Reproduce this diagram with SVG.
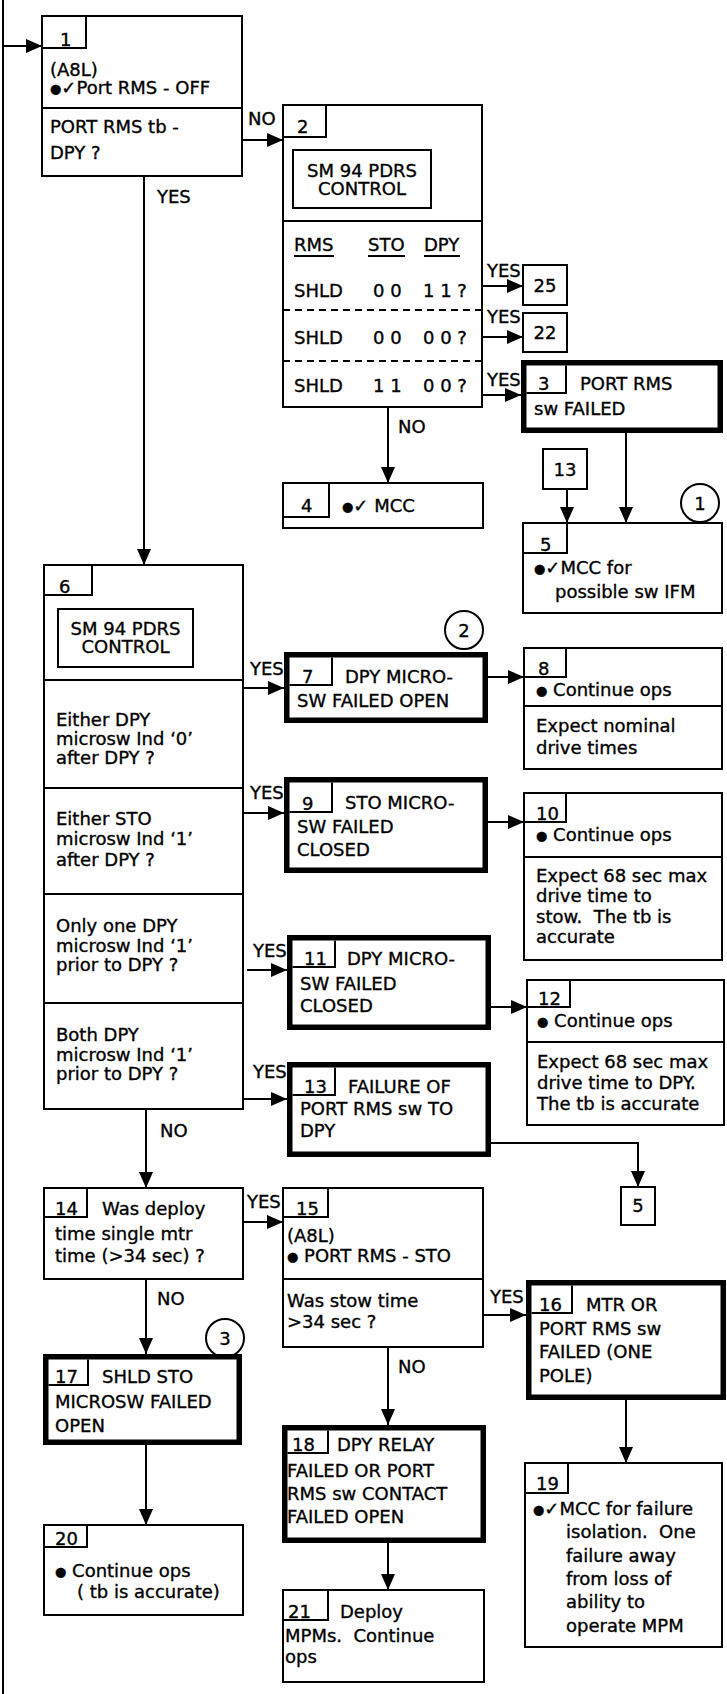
<svg xmlns="http://www.w3.org/2000/svg" width="727" height="1694" viewBox="0 0 727 1694">
<style>
text { font-family: "DejaVu Sans", "Liberation Sans", sans-serif; font-size: 18px; fill: #000; stroke: #000; stroke-width: 0.35; white-space: pre; }
.m { text-anchor: middle; }
.bu { font-size: 13px; baseline-shift: 1.5px; }
.box { fill: #fff; stroke: #000; stroke-width: 2; }
.thick { fill: #fff; stroke: #000; stroke-width: 5.5; }
.ln { fill: none; stroke: #000; stroke-width: 2; }
.dash { fill: none; stroke: #000; stroke-width: 2; stroke-dasharray: 7 5; }
.c { fill: none; stroke: #000; stroke-width: 2; marker-end: url(#ah); }
.cn { fill: none; stroke: #000; stroke-width: 2; }
.circ { fill: #fff; stroke: #000; stroke-width: 2; }
</style>
<defs>
<marker id="ah" markerUnits="userSpaceOnUse" markerWidth="17" markerHeight="15" refX="16" refY="7" orient="auto">
<path d="M0,0 L16,7 L0,14 z" fill="#000"/>
</marker>
</defs>
<rect width="727" height="1694" fill="#fff"/>

<g id="connectors">
<line class="cn" x1="3" y1="0" x2="3" y2="1694"/>
<line class="c" x1="3" y1="46" x2="42" y2="46"/>
<line class="c" x1="242" y1="140" x2="283" y2="140"/>
<text x="248" y="125">NO</text>
<line class="c" x1="144" y1="176" x2="144" y2="565"/>
<text x="157" y="203">YES</text>
<line class="c" x1="482" y1="286" x2="523" y2="286"/>
<text x="487" y="277">YES</text>
<line class="c" x1="482" y1="337" x2="523" y2="337"/>
<text x="487" y="323">YES</text>
<line class="c" x1="482" y1="395" x2="521" y2="395"/>
<text x="487" y="386">YES</text>
<line class="c" x1="388" y1="407" x2="388" y2="483"/>
<text x="398" y="433">NO</text>
<line class="c" x1="567" y1="489" x2="567" y2="523"/>
<line class="c" x1="626" y1="433" x2="626" y2="523"/>
<line class="c" x1="243" y1="688" x2="284" y2="688"/>
<text x="250" y="675">YES</text>
<line class="c" x1="488" y1="677" x2="524" y2="677"/>
<line class="c" x1="243" y1="813" x2="284" y2="813"/>
<text x="250" y="799">YES</text>
<line class="c" x1="488" y1="822" x2="524" y2="822"/>
<line class="c" x1="247" y1="970" x2="287" y2="970"/>
<text x="253" y="957">YES</text>
<line class="c" x1="491" y1="1007" x2="527" y2="1007"/>
<line class="c" x1="243" y1="1099" x2="287" y2="1099"/>
<text x="253" y="1078">YES</text>
<polyline class="c" points="491,1143 638,1143 638,1187"/>
<line class="c" x1="146" y1="1109" x2="146" y2="1188"/>
<text x="160" y="1137">NO</text>
<line class="c" x1="243" y1="1222" x2="283" y2="1222"/>
<text x="247" y="1208">YES</text>
<line class="c" x1="146" y1="1279" x2="146" y2="1354"/>
<text x="157" y="1305">NO</text>
<line class="c" x1="146" y1="1445" x2="146" y2="1525"/>
<line class="c" x1="388" y1="1347" x2="388" y2="1425"/>
<text x="398" y="1373">NO</text>
<line class="c" x1="388" y1="1543" x2="388" y2="1590"/>
<line class="c" x1="483" y1="1315" x2="526" y2="1315"/>
<text x="490" y="1303">YES</text>
<line class="c" x1="626" y1="1400" x2="626" y2="1463"/>
</g>

<g id="node1">
<rect class="box" x="42" y="16" width="200" height="160"/>
<line class="ln" x1="42" y1="108" x2="242" y2="108"/>
<path class="ln" d="M86,16 V48 H42"/>
<text x="60" y="46">1</text>
<text x="50" y="76">(A8L)</text>
<text x="50" y="94"><tspan class="bu">●</tspan>✓Port RMS - OFF</text>
<text x="50" y="133">PORT RMS tb -</text>
<text x="50" y="159">DPY ?</text>
</g>

<g id="node2">
<rect class="box" x="283" y="105" width="199" height="302"/>
<line class="ln" x1="283" y1="221" x2="482" y2="221"/>
<path class="ln" d="M326,105 V137 H283"/>
<text x="297" y="133">2</text>
<rect class="box" x="293" y="150" width="138" height="58"/>
<text class="m" x="362" y="177">SM 94 PDRS</text>
<text class="m" x="362" y="195">CONTROL</text>
<text x="294" y="251">RMS</text>
<text x="368" y="251">STO</text>
<text x="424" y="251">DPY</text>
<line class="ln" x1="294" y1="256" x2="334" y2="256"/>
<line class="ln" x1="368" y1="256" x2="405" y2="256"/>
<line class="ln" x1="424" y1="256" x2="460" y2="256"/>
<text x="294" y="297">SHLD</text>
<text x="373" y="297">0 0</text>
<text x="423" y="297">1 1 ?</text>
<line class="dash" x1="283" y1="310" x2="482" y2="310"/>
<text x="294" y="344">SHLD</text>
<text x="373" y="344">0 0</text>
<text x="423" y="344">0 0 ?</text>
<line class="dash" x1="283" y1="361" x2="482" y2="361"/>
<text x="294" y="392">SHLD</text>
<text x="373" y="392">1 1</text>
<text x="423" y="392">0 0 ?</text>
</g>

<g id="ref25">
<rect class="box" x="523" y="265" width="44" height="40"/>
<text class="m" x="545" y="292">25</text>
</g>
<g id="ref22">
<rect class="box" x="523" y="313" width="44" height="39"/>
<text class="m" x="545" y="339">22</text>
</g>

<g id="node3">
<rect class="thick" x="523.75" y="362.75" width="196.5" height="67.5"/>
<path class="ln" d="M566,365.5 V393 H526.5"/>
<text x="538" y="390">3</text>
<text x="580" y="390">PORT RMS</text>
<text x="534" y="415">sw FAILED</text>
</g>

<g id="node4">
<rect class="box" x="283" y="483" width="200" height="45"/>
<path class="ln" d="M329,483 V517 H283"/>
<text x="301" y="512">4</text>
<text x="342" y="512"><tspan class="bu">●</tspan>✓ MCC</text>
</g>

<g id="ref13">
<rect class="box" x="543" y="449" width="44" height="40"/>
<text class="m" x="565" y="476">13</text>
</g>

<g id="circle1">
<circle class="circ" cx="700" cy="503" r="19"/>
<text class="m" x="700" y="510">1</text>
</g>

<g id="node5">
<rect class="box" x="523" y="523" width="199" height="90"/>
<path class="ln" d="M567,523 V553 H523"/>
<text x="540" y="551">5</text>
<text x="534" y="574"><tspan class="bu">●</tspan>✓MCC for</text>
<text x="555" y="598">possible sw IFM</text>
</g>

<g id="circle2">
<circle class="circ" cx="464" cy="630" r="19"/>
<text class="m" x="464" y="637">2</text>
</g>

<g id="node6">
<rect class="box" x="44" y="565" width="199" height="544"/>
<path class="ln" d="M92,565 V595 H44"/>
<text x="59" y="593">6</text>
<rect class="box" x="58" y="609" width="135" height="58"/>
<text class="m" x="125.5" y="635">SM 94 PDRS</text>
<text class="m" x="125.5" y="653">CONTROL</text>
<line class="ln" x1="44" y1="680" x2="243" y2="680"/>
<text x="56" y="726">Either DPY</text>
<text x="56" y="745">microsw Ind ‘0’</text>
<text x="56" y="764">after DPY ?</text>
<line class="ln" x1="44" y1="788" x2="243" y2="788"/>
<text x="56" y="825">Either STO</text>
<text x="56" y="845">microsw Ind ‘1’</text>
<text x="56" y="866">after DPY ?</text>
<line class="ln" x1="44" y1="894" x2="243" y2="894"/>
<text x="56" y="932">Only one DPY</text>
<text x="56" y="952">microsw Ind ‘1’</text>
<text x="56" y="971">prior to DPY ?</text>
<line class="ln" x1="44" y1="1003" x2="243" y2="1003"/>
<text x="56" y="1041">Both DPY</text>
<text x="56" y="1061">microsw Ind ‘1’</text>
<text x="56" y="1080">prior to DPY ?</text>
</g>

<g id="node7">
<rect class="thick" x="286.75" y="654.75" width="198.5" height="65.5"/>
<path class="ln" d="M332,657.5 V685 H289.5"/>
<text x="302" y="683">7</text>
<text x="345" y="683">DPY MICRO-</text>
<text x="297" y="707">SW FAILED OPEN</text>
</g>

<g id="node8">
<rect class="box" x="524" y="648" width="198" height="121"/>
<line class="ln" x1="524" y1="706" x2="722" y2="706"/>
<path class="ln" d="M566,648 V677 H524"/>
<text x="538" y="675">8</text>
<text x="536" y="696"><tspan class="bu">●</tspan> Continue ops</text>
<text x="536" y="732">Expect nominal</text>
<text x="536" y="754">drive times</text>
</g>

<g id="node9">
<rect class="thick" x="286.75" y="779.75" width="198.5" height="90.5"/>
<path class="ln" d="M332,782.5 V812 H289.5"/>
<text x="302" y="810">9</text>
<text x="345" y="809">STO MICRO-</text>
<text x="297" y="833">SW FAILED</text>
<text x="297" y="856">CLOSED</text>
</g>

<g id="node10">
<rect class="box" x="524" y="793" width="198" height="167"/>
<line class="ln" x1="524" y1="857" x2="722" y2="857"/>
<path class="ln" d="M566,793 V822 H524"/>
<text x="536" y="820">10</text>
<text x="536" y="841"><tspan class="bu">●</tspan> Continue ops</text>
<text x="536" y="882">Expect 68 sec max</text>
<text x="536" y="902">drive time to</text>
<text x="536" y="923">stow.  The tb is</text>
<text x="536" y="943">accurate</text>
</g>

<g id="node11">
<rect class="thick" x="289.75" y="937.75" width="198.5" height="89.5"/>
<path class="ln" d="M335,940.5 V967 H292.5"/>
<text x="304" y="965">11</text>
<text x="347" y="965">DPY MICRO-</text>
<text x="300" y="990">SW FAILED</text>
<text x="300" y="1012">CLOSED</text>
</g>

<g id="node12">
<rect class="box" x="527" y="980" width="197" height="145"/>
<line class="ln" x1="527" y1="1042" x2="724" y2="1042"/>
<path class="ln" d="M570,980 V1007 H527"/>
<text x="538" y="1005">12</text>
<text x="537" y="1027"><tspan class="bu">●</tspan> Continue ops</text>
<text x="537" y="1068">Expect 68 sec max</text>
<text x="537" y="1089">drive time to DPY.</text>
<text x="537" y="1110">The tb is accurate</text>
</g>

<g id="node13">
<rect class="thick" x="289.75" y="1064.75" width="198.5" height="89.5"/>
<path class="ln" d="M335,1067.5 V1095 H292.5"/>
<text x="304" y="1093">13</text>
<text x="348" y="1093">FAILURE OF</text>
<text x="300" y="1115">PORT RMS sw TO</text>
<text x="300" y="1137">DPY</text>
</g>

<g id="ref5">
<rect class="box" x="621" y="1187" width="34" height="38"/>
<text class="m" x="638" y="1212">5</text>
</g>

<g id="node14">
<rect class="box" x="44" y="1188" width="199" height="91"/>
<path class="ln" d="M87,1188 V1217 H44"/>
<text x="55" y="1215">14</text>
<text x="102" y="1215">Was deploy</text>
<text x="55" y="1240">time single mtr</text>
<text x="55" y="1262">time (&gt;34 sec) ?</text>
</g>

<g id="node15">
<rect class="box" x="283" y="1188" width="200" height="159"/>
<line class="ln" x1="283" y1="1279" x2="483" y2="1279"/>
<path class="ln" d="M328,1188 V1217 H283"/>
<text x="296" y="1215">15</text>
<text x="287" y="1242">(A8L)</text>
<text x="287" y="1262"><tspan class="bu">●</tspan> PORT RMS - STO</text>
<text x="287" y="1307">Was stow time</text>
<text x="287" y="1328">&gt;34 sec ?</text>
</g>

<g id="circle3">
<circle class="circ" cx="225" cy="1338" r="19"/>
<text class="m" x="225" y="1345">3</text>
</g>

<g id="node16">
<rect class="thick" x="528.75" y="1282.75" width="194.5" height="114.5"/>
<path class="ln" d="M572,1285.5 V1313 H531.5"/>
<text x="539" y="1311">16</text>
<text x="586" y="1311">MTR OR</text>
<text x="539" y="1335">PORT RMS sw</text>
<text x="539" y="1358">FAILED (ONE</text>
<text x="539" y="1382">POLE)</text>
</g>

<g id="node17">
<rect class="thick" x="45.75" y="1356.75" width="193.5" height="85.5"/>
<path class="ln" d="M88,1359.5 V1385 H48.5"/>
<text x="55" y="1383">17</text>
<text x="102" y="1383">SHLD STO</text>
<text x="55" y="1408">MICROSW FAILED</text>
<text x="55" y="1432">OPEN</text>
</g>

<g id="node18">
<rect class="thick" x="284.75" y="1427.75" width="198.5" height="112.5"/>
<path class="ln" d="M328,1430.5 V1453 H287.5"/>
<text x="292" y="1451">18</text>
<text x="337" y="1451">DPY RELAY</text>
<text x="287" y="1477">FAILED OR PORT</text>
<text x="287" y="1500">RMS sw CONTACT</text>
<text x="287" y="1523">FAILED OPEN</text>
</g>

<g id="node19">
<rect class="box" x="525" y="1463" width="197" height="184"/>
<path class="ln" d="M568,1463 V1493 H525"/>
<text x="536" y="1490">19</text>
<text x="533" y="1515"><tspan class="bu">●</tspan>✓MCC for failure</text>
<text x="566" y="1538">isolation.  One</text>
<text x="566" y="1562">failure away</text>
<text x="566" y="1585">from loss of</text>
<text x="566" y="1608">ability to</text>
<text x="566" y="1632">operate MPM</text>
</g>

<g id="node20">
<rect class="box" x="44" y="1525" width="199" height="90"/>
<path class="ln" d="M87,1525 V1547 H44"/>
<text x="55" y="1545">20</text>
<text x="55" y="1577"><tspan class="bu">●</tspan> Continue ops</text>
<text x="77" y="1598">( tb is accurate)</text>
</g>

<g id="node21">
<rect class="box" x="283" y="1590" width="201" height="92"/>
<path class="ln" d="M328,1590 V1620 H283"/>
<text x="288" y="1618">21</text>
<text x="340" y="1618">Deploy</text>
<text x="285" y="1642">MPMs.  Continue</text>
<text x="285" y="1663">ops</text>
</g>
</svg>
